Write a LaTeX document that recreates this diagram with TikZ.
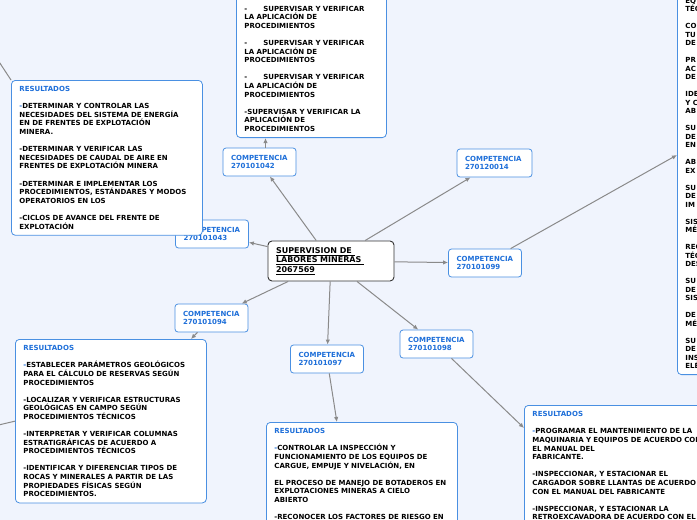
\documentclass[tikz,border=0pt]{standalone}
\usepackage{fontspec}
\setmainfont{DejaVu Sans}
\usetikzlibrary{arrows.meta}
\definecolor{bgBlue}{HTML}{F0F4FD}
\definecolor{boxBlue}{HTML}{4A90E2}
\definecolor{textBlue}{HTML}{1E6FD9}
\definecolor{linkGray}{HTML}{8A8A8A}
\newcommand{\resFont}{\fontsize{7}{8.6}\selectfont\bfseries}
\newcommand{\parGap}{\\[8.6pt]}
\newcommand{\resHead}{{\color{textBlue}RESULTADOS}\parGap}
\newcommand{\bDash}{{\color{textBlue}-}}
\tikzset{
  compNode/.style={draw=boxBlue,fill=white,rounded corners=3pt,line width=0.8pt,text=textBlue,font=\resFont,align=left,text width=57pt,inner xsep=8pt,minimum height=28pt},
  resBox/.style={draw=boxBlue,fill=white,rounded corners=4pt,line width=0.8pt,font=\resFont,align=left,text width=175pt,inner xsep=8pt,inner ysep=6pt},
  rootNode/.style={draw=black!80,fill=white,rounded corners=4pt,line width=0.9pt,font=\fontsize{8}{9.5}\selectfont\bfseries,align=left,text width=110pt,inner xsep=8pt,minimum height=40pt},
  link/.style={draw=linkGray,line width=1pt,-{Latex[length=5pt,width=4.5pt]}},
  plainLink/.style={draw=linkGray,line width=1pt}
}

\begin{document}
\begin{tikzpicture}[x=1pt,y=-1pt]
  \fill[bgBlue] (0,0) rectangle (697,520);
  \useasboundingbox (0,0) rectangle (697,520);

  \node[rootNode] (root) at (331,261) {\underline{SUPERVISION DE\ }\\\underline{LABORES MINERAS\ }\\\underline{2067569}};

  \node[compNode] (c42) at (259.5,162) {COMPETENCIA\\270101042};
  \node[compNode] (c43) at (212,234) {COMPETENCIA\\270101043};
  \node[compNode,text width=59pt] (c14) at (494.5,163) {COMPETENCIA\\270120014};
  \node[compNode] (c99) at (485,263) {COMPETENCIA\\270101099};
  \node[compNode] (c98) at (436.5,344) {COMPETENCIA\\270101098};
  \node[compNode] (c97) at (327,359) {COMPETENCIA\\270101097};
  \node[compNode] (c94) at (211.5,318) {COMPETENCIA\\270101094};

  % resultados
  \node[resBox,text width=134pt,anchor=south west] (r42) at (236,138) {%
    \rule{0pt}{16pt}-\hspace{16pt}SUPERVISAR Y VERIFICAR\\LA APLICACIÓN DE\\PROCEDIMIENTOS\parGap
    -\hspace{16pt}SUPERVISAR Y VERIFICAR\\LA APLICACIÓN DE\\PROCEDIMIENTOS\parGap
    -\hspace{16pt}SUPERVISAR Y VERIFICAR\\LA APLICACIÓN DE\\PROCEDIMIENTOS\parGap
    -SUPERVISAR Y VERIFICAR LA\\APLICACIÓN DE\\PROCEDIMIENTOS};
  \node[resBox,anchor=north west] (r43) at (11,80) {\resHead
    \bDash DETERMINAR Y CONTROLAR LAS\\NECESIDADES DEL SISTEMA DE ENERGÍA\\EN DE FRENTES DE EXPLOTACIÓN\\MINERA.\parGap
    -DETERMINAR Y VERIFICAR LAS\\NECESIDADES DE CAUDAL DE AIRE EN\\FRENTES DE EXPLOTACIÓN MINERA\parGap
    -DETERMINAR E IMPLEMENTAR LOS\\PROCEDIMIENTOS, ESTÁNDARES Y MODOS\\OPERATORIOS EN LOS\parGap
    -CICLOS DE AVANCE DEL FRENTE DE\\EXPLOTACIÓN};
  \node[resBox,anchor=south west,font=\fontsize{7}{8.5}\selectfont\bfseries] (r99) at (677,375) {%
    EQ\\TÉC\\[8.5pt] CO\\TU\\DE\\[8.5pt] PR\\AC\\DE\\[8.5pt] IDE\\Y C\\AB\\[8.5pt]
    SU\\DE\\EN\\[8.5pt] AB\\EX\\[8.5pt] SU\\DE\\IM\\[8.5pt] SIS\\MÉ\\[8.5pt]
    REC\\TÉC\\DES\\[8.5pt] SU\\DE\\SIS\\[8.5pt] DE\\MÉ\\[8.5pt] SU\\DE\\INS\\ELÉ};
  \node[resBox,anchor=north west] (r94) at (15,339) {\resHead
    \bDash ESTABLECER PARÁMETROS GEOLÓGICOS\\PARA EL CÁLCULO DE RESERVAS SEGÚN\\PROCEDIMIENTOS\parGap
    -LOCALIZAR Y VERIFICAR ESTRUCTURAS\\GEOLÓGICAS EN CAMPO SEGÚN\\PROCEDIMIENTOS TÉCNICOS\parGap
    -INTERPRETAR Y VERIFICAR COLUMNAS\\ESTRATIGRÁFICAS DE ACUERDO A\\PROCEDIMIENTOS TÉCNICOS\parGap
    -IDENTIFICAR Y DIFERENCIAR TIPOS DE\\ROCAS Y MINERALES A PARTIR DE LAS\\PROPIEDADES FÍSICAS SEGÚN\\PROCEDIMIENTOS.};
  \node[resBox,anchor=north west] (r97) at (266,422) {\resHead
    \bDash CONTROLAR LA INSPECCIÓN Y\\FUNCIONAMIENTO DE LOS EQUIPOS DE\\CARGUE, EMPUJE Y NIVELACIÓN, EN\parGap
    EL PROCESO DE MANEJO DE BOTADEROS EN\\EXPLOTACIONES MINERAS A CIELO\\ABIERTO\parGap
    -RECONOCER LOS FACTORES DE RIESGO EN};
  \node[resBox,anchor=north west] (r98) at (524,405) {\resHead
    \bDash PROGRAMAR EL MANTENIMIENTO DE LA\\MAQUINARIA Y EQUIPOS DE ACUERDO CON\\EL MANUAL DEL\\FABRICANTE.\parGap
    -INSPECCIONAR, Y ESTACIONAR EL\\CARGADOR SOBRE LLANTAS DE ACUERDO\\CON EL MANUAL DEL FABRICANTE\parGap
    -INSPECCIONAR, Y ESTACIONAR LA\\RETROEXCAVADORA DE ACUERDO CON EL};

  % enlaces
  \draw[link] (root) -- (c42);
  \draw[link] (root) -- (c43);
  \draw[link] (root) -- (c14);
  \draw[link] (root) -- (c99);
  \draw[link] (root) -- (c98);
  \draw[link] (root) -- (c97);
  \draw[link] (root) -- (c94);
  \draw[link] ([xshift=6pt]c42.north) -- ([xshift=6pt]c42.north |- r42.south);
  \draw[link] (c94) -- (r94);
  \draw[link] (c97) -- ([xshift=-25pt]r97.north);
  \draw[link] (c98) -- ([yshift=-23pt]r98.north west);
  \draw[link] (c99) -- ([yshift=220pt]r99.south west);
  \coordinate (offA) at (-10,48);
  \coordinate (offB) at (-10,427);
  \draw[plainLink] (offA) -- (r43.north west);
  \draw[plainLink] (offB) -- (r94.west);
\end{tikzpicture}
\end{document}
